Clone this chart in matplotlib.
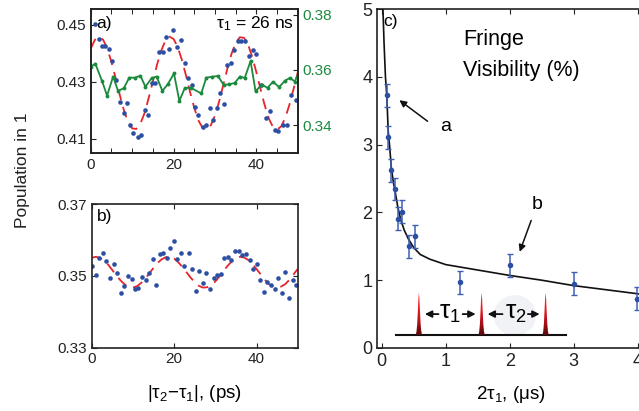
import matplotlib
matplotlib.use("Agg")
import matplotlib.pyplot as plt
from matplotlib.patches import Polygon, Ellipse
from matplotlib.colors import LinearSegmentedColormap
import numpy as np

plt.rcParams['font.family'] = ['Liberation Sans', 'DejaVu Sans']
plt.rcParams['mathtext.fontset'] = 'custom'
plt.rcParams['mathtext.rm'] = 'Liberation Sans'
plt.rcParams['mathtext.it'] = 'Liberation Sans:italic'
plt.rcParams['font.size'] = 11

BLUE = '#2c4ea3'
RED = '#e8232a'
GREEN = '#1b8a3c'

# ---- panel a: tau1 = 26 ns ----
a_x = [1.0, 1.9, 2.7, 3.5, 4.4, 5.2, 6.1, 7.1, 8.0, 8.7, 9.6, 10.3, 11.3, 12.2, 13.1,
       13.8, 14.7, 15.6, 16.5, 17.4, 18.2, 19.0, 19.9, 20.8, 21.7, 22.7, 23.4, 24.5,
       25.1, 26.0, 27.0, 27.9, 28.7, 29.6, 30.4, 31.2, 32.1, 33.0, 33.8, 34.7, 35.5,
       36.4, 37.2, 38.2, 39.1, 40.0, 41.1, 42.4, 43.3, 44.4, 45.2, 46.4, 47.5, 48.4,
       49.5, 50.3]
a_y = [0.4503, 0.4450, 0.4424, 0.4427, 0.4413, 0.4371, 0.4306, 0.4229, 0.4189, 0.4225,
       0.4147, 0.4121, 0.4106, 0.4112, 0.4201, 0.4184, 0.4294, 0.4294, 0.4403, 0.4403,
       0.4458, 0.4413, 0.4480, 0.4423, 0.4445, 0.4364, 0.4313, 0.4289, 0.4210, 0.4184,
       0.4141, 0.4147, 0.4208, 0.4167, 0.4208, 0.4262, 0.4223, 0.4360, 0.4366, 0.4412,
       0.4444, 0.4444, 0.4444, 0.4391, 0.4410, 0.4397, 0.4290, 0.4171, 0.4196, 0.4132,
       0.4128, 0.4147, 0.4147, 0.4252, 0.4237, 0.4257]
a_fit_x = list(range(0, 51))
a_fit_y = [0.4416, 0.4447, 0.4458, 0.4447, 0.4416, 0.4369, 0.4313, 0.4254, 0.4200, 0.4159,
           0.4136, 0.4134, 0.4153, 0.4190, 0.4243, 0.4301, 0.4359, 0.4408, 0.4443, 0.4458,
           0.4450, 0.4422, 0.4377, 0.4322, 0.4263, 0.4208, 0.4164, 0.4138, 0.4132, 0.4147,
           0.4181, 0.4230, 0.4288, 0.4346, 0.4398, 0.4436, 0.4456, 0.4454, 0.4430, 0.4387,
           0.4333, 0.4274, 0.4218, 0.4171, 0.4141, 0.4132, 0.4143, 0.4174, 0.4220, 0.4275,
           0.4333]
g_x = [0.0, 1.1, 2.7, 3.95, 5.4, 6.6, 8.0, 9.3, 10.7, 12.0, 13.2, 14.7, 15.9, 17.3, 18.6,
       20.1, 21.4, 22.7, 24.1, 26.7, 27.9, 29.2, 30.7, 32.1, 33.5, 34.8, 36.0, 37.2, 38.6,
       39.8, 41.3, 42.7, 44.0, 45.5, 46.9, 48.1, 49.3, 50.3]
g_y = [0.3611, 0.3623, 0.3561, 0.3507, 0.3576, 0.3524, 0.3534, 0.3572, 0.3572, 0.3579,
       0.3539, 0.3570, 0.3576, 0.3524, 0.3548, 0.3587, 0.3488, 0.3534, 0.3536, 0.3515,
       0.3572, 0.3575, 0.3578, 0.3546, 0.3548, 0.3553, 0.3576, 0.3571, 0.3632, 0.3523,
       0.3547, 0.3535, 0.3557, 0.3538, 0.3561, 0.3571, 0.3558, 0.3592]

# ---- panel b ----
b_x = [0.1, 1.0, 1.8, 2.7, 3.5, 4.5, 5.4, 6.1, 7.0, 7.9, 8.8, 9.7, 10.5, 11.3, 12.2, 13.1,
       13.9, 14.8, 15.7, 16.6, 17.4, 18.2, 19.1, 20.0, 20.8, 21.7, 22.5, 23.5, 24.4, 25.3,
       26.1, 26.9, 27.8, 28.7, 29.6, 30.5, 31.3, 32.2, 33.1, 33.9, 34.8, 35.7, 36.6, 37.4,
       38.3, 39.2, 40.0, 40.9, 41.8, 42.6, 43.5, 44.4, 45.2, 46.1, 47.0, 47.9, 48.8, 49.6]
b_y = [0.3526, 0.3502, 0.3549, 0.3564, 0.3541, 0.3493, 0.3532, 0.3508, 0.3453, 0.3472,
       0.3500, 0.3491, 0.3463, 0.3467, 0.3496, 0.3489, 0.3507, 0.3547, 0.3474, 0.3560,
       0.3564, 0.3549, 0.3578, 0.3596, 0.3546, 0.3564, 0.3527, 0.3563, 0.3519, 0.3457,
       0.3513, 0.3479, 0.3507, 0.3464, 0.3493, 0.3502, 0.3505, 0.3550, 0.3553, 0.3544,
       0.3568, 0.3568, 0.3559, 0.3562, 0.3544, 0.3518, 0.3534, 0.3489, 0.3456, 0.3483,
       0.3475, 0.3463, 0.3494, 0.3451, 0.3510, 0.3439, 0.3488, 0.3475]
b_fit_x = list(range(0, 51))
b_fit_y = [0.3550, 0.3553, 0.3550, 0.3543, 0.3531, 0.3516, 0.3501, 0.3487, 0.3476, 0.3469,
           0.3467, 0.3471, 0.3480, 0.3492, 0.3507, 0.3522, 0.3536, 0.3546, 0.3552, 0.3553,
           0.3548, 0.3538, 0.3525, 0.3510, 0.3495, 0.3482, 0.3472, 0.3467, 0.3468, 0.3474,
           0.3484, 0.3498, 0.3513, 0.3528, 0.3540, 0.3549, 0.3553, 0.3551, 0.3544, 0.3533,
           0.3519, 0.3504, 0.3489, 0.3477, 0.3470, 0.3467, 0.3470, 0.3477, 0.3489, 0.3504,
           0.3519]

# ---- panel c: fringe visibility ----
c_x = [0.078, 0.10, 0.15, 0.21, 0.26, 0.31, 0.42, 0.52, 1.22, 2.01, 3.0, 3.99]
c_y = [3.73, 3.11, 2.62, 2.35, 1.91, 2.01, 1.50, 1.65, 0.97, 1.22, 0.95, 0.73]
c_err = [0.17, 0.17, 0.17, 0.16, 0.17, 0.17, 0.17, 0.17, 0.17, 0.17, 0.17, 0.17]
c_fit_x = [0.016, 0.035, 0.057, 0.078, 0.10, 0.12, 0.15, 0.18, 0.21, 0.25, 0.30, 0.35, 0.42,
           0.50, 0.60, 0.75, 1.0, 1.25, 1.5, 2.0, 2.5, 3.0, 3.5, 4.0, 4.1]
c_fit_y = [5.05, 4.5, 4.0, 3.72, 3.2, 3.0, 2.65, 2.45, 2.3, 2.08, 1.88, 1.74, 1.6,
           1.48, 1.38, 1.31, 1.23, 1.19, 1.15, 1.07, 1.0, 0.92, 0.86, 0.80, 0.785]

# pulse sketch (inset)
pulse_pos = [0.58, 1.56, 2.56]
pulse_dx = [-0.05, -0.038, -0.027, -0.017, -0.008, 0.0, 0.008, 0.017, 0.027, 0.038, 0.05]
pulse_dy = [0.0, 0.05, 0.16, 0.35, 0.54, 0.63, 0.54, 0.35, 0.16, 0.05, 0.0]
base_y = 0.19


def style(ax):
    for s in ax.spines.values():
        s.set_linewidth(1.2)
        s.set_color('#222222')
    ax.tick_params(direction='in', length=3.5, width=0.8, top=True, right=True,
                   labelsize=11, colors='#222222')


fig = plt.figure(figsize=(6.39, 4.11), dpi=100)

# panel a
ax_a = fig.add_axes([0.142, 0.628, 0.324, 0.350])
ax_a.plot(a_fit_x, a_fit_y, color=RED, lw=1.3, ls=(0, (6, 4)))
ax_a.plot(a_x, a_y, 'o', color=BLUE, ms=3.3, mec='none')
ax_a.set_xlim(0, 50)
ax_a.set_ylim(0.405, 0.4555)
ax_a.set_xticks([0, 20, 40])
ax_a.set_xticks(np.arange(0, 51, 5), minor=True)
ax_a.set_yticks([0.41, 0.43, 0.45])
ax_a.set_yticklabels(['0.41', '0.43', '0.45'])
style(ax_a)
ax_a.tick_params(which='minor', direction='in', length=3.5, top=True, bottom=True)
ax_a.tick_params(right=False)
ax_a.text(1.3, 0.4505, 'a)', fontsize=12.5, va='center')
ax_a.text(49, 0.4505, 'τ$_1$ = 26 ns', fontsize=12.5, ha='right', va='center')

ax_g = ax_a.twinx()
ax_g.plot(g_x, g_y, '-o', color=GREEN, lw=1.3, ms=2.8, mec='none')
ax_g.set_ylim(0.33, 0.382)
ax_g.set_yticks([0.34, 0.36, 0.38])
ax_g.set_yticklabels(['0.34', '0.36', '0.38'])
ax_g.tick_params(axis='y', direction='in', length=3.5, labelsize=11, colors=GREEN)
ax_g.tick_params(axis='y', which='major', color='#222222')
for s in ax_g.spines.values():
    s.set_linewidth(1.2)
    s.set_color('#222222')

# panel b
ax_b = fig.add_axes([0.1435, 0.1545, 0.3224, 0.349])
ax_b.plot(b_fit_x, b_fit_y, color=RED, lw=1.3, ls=(0, (6, 4)))
ax_b.plot(b_x, b_y, 'o', color=BLUE, ms=3.3, mec='none')
ax_b.set_xlim(0, 50)
ax_b.set_ylim(0.33, 0.37)
ax_b.set_xticks([0, 20, 40])
ax_b.set_yticks([0.33, 0.35, 0.37])
ax_b.set_yticklabels(['0.33', '0.35', '0.37'])
style(ax_b)
ax_b.text(1.3, 0.3665, 'b)', fontsize=12.5, va='center')
ax_b.set_xlabel('|τ$_2$−τ$_1$|, (ps)', fontsize=13.5, labelpad=12)

fig.text(0.035, 0.585, 'Population in 1', rotation=90, fontsize=12.5,
         ha='center', va='center', color='#222222')

# panel c
ax_c = fig.add_axes([0.5905, 0.1533, 0.4175, 0.8247])
ax_c.set_xlim(-0.07, 4.1)
ax_c.set_ylim(0, 5)

ell = Ellipse((2.08, 0.48), 0.66, 0.6, facecolor='#f1f2f6', edgecolor='none', zorder=1)
ax_c.add_patch(ell)
ax_c.plot([0.22, 2.88], [base_y, base_y], color='#111111', lw=1.5, zorder=2)
cmap = LinearSegmentedColormap.from_list(
    'pulse', [(0.0, '#5a0808'), (0.3, '#b01018'), (0.6, '#e81a22'), (1.0, '#ff3030')])
grad = np.linspace(0, 1, 64).reshape(-1, 1)
for p in pulse_pos:
    xs = [p + d for d in pulse_dx]
    ys = [base_y + d for d in pulse_dy]
    poly = Polygon(list(zip(xs, ys)), closed=True, facecolor='none', edgecolor='none')
    ax_c.add_patch(poly)
    im = ax_c.imshow(grad, cmap=cmap, origin='lower', aspect='auto',
                     extent=[min(xs), max(xs), base_y, max(ys)], zorder=3)
    im.set_clip_path(poly)

arr = dict(arrowstyle='-|>', color='#111111', lw=1.3, mutation_scale=10)
ax_c.annotate('', xy=(0.63, 0.5), xytext=(0.93, 0.5), arrowprops=arr, zorder=4)
ax_c.annotate('', xy=(1.51, 0.5), xytext=(1.22, 0.5), arrowprops=arr, zorder=4)
ax_c.annotate('', xy=(1.61, 0.5), xytext=(1.93, 0.5), arrowprops=arr, zorder=4)
ax_c.annotate('', xy=(2.51, 0.5), xytext=(2.24, 0.5), arrowprops=arr, zorder=4)
ax_c.text(1.07, 0.52, 'τ$_1$', fontsize=19, ha='center', va='center', zorder=4)
ax_c.text(2.09, 0.52, 'τ$_2$', fontsize=19, ha='center', va='center', zorder=4)

ax_c.plot(c_fit_x, c_fit_y, color='#111111', lw=1.2, zorder=5)
ax_c.errorbar(c_x, c_y, yerr=c_err, fmt='o', color=BLUE, ms=4, mec='none',
              ecolor='#3f5fb5', elinewidth=1.1, capsize=2.5, capthick=1.0, zorder=6)

ax_c.set_xticks([0, 1, 2, 3, 4])
ax_c.set_yticks([0, 1, 2, 3, 4, 5])
style(ax_c)
ax_c.tick_params(right=False, labelsize=13)
ax_c.text(0.03, 4.82, 'c)', fontsize=12.5, va='center')
ax_c.text(1.27, 4.55, 'Fringe', fontsize=15.5, va='center')
ax_c.text(1.27, 4.1, 'Visibility (%)', fontsize=15.5, va='center')

ann = dict(arrowstyle='-|>', color='#111111', lw=1.1, mutation_scale=10)
ax_c.annotate('', xy=(0.24, 3.68), xytext=(0.75, 3.32), arrowprops=ann)
ax_c.text(1.0, 3.27, 'a', fontsize=14, ha='center', va='center')
ax_c.annotate('', xy=(2.14, 1.38), xytext=(2.35, 1.92), arrowprops=ann)
ax_c.text(2.42, 2.12, 'b', fontsize=14, ha='center', va='center')
ax_c.set_xlabel('2τ$_1$, (μs)', fontsize=13.5, labelpad=10)

fig.savefig('out.png', dpi=100)
